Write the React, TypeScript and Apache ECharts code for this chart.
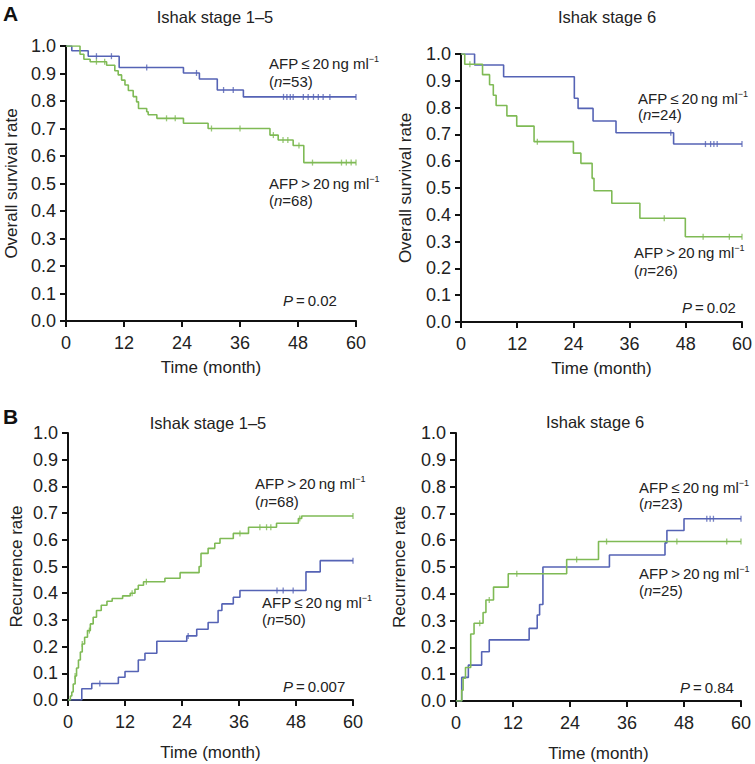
import React, { useEffect, useRef } from "react";
import * as echarts from "echarts";

const FONT = "'Liberation Sans', Arial, Helvetica, sans-serif";
const BLUE = "#5563b5";
const GREEN = "#7fba55";

const xTicks = [0, 12, 24, 36, 48, 60];
const yTicks = [0, 0.1, 0.2, 0.3, 0.4, 0.5, 0.6, 0.7, 0.8, 0.9, 1.0];

const panelTitles = ["Ishak stage 1–5", "Ishak stage 6", "Ishak stage 1–5", "Ishak stage 6"];
const yNames = ["Overall survival rate", "Overall survival rate", "Recurrence rate", "Recurrence rate"];
const xName = "Time (month)";
const pValues = ["0.02", "0.02", "0.007", "0.84"];

// Panel A, Ishak stage 1–5 : overall survival
const aLeftLowT = [0, 1.2, 4.6, 11, 24.3, 27.6, 31.3, 36.7];
const aLeftLowV = [1, 0.983, 0.963, 0.922, 0.902, 0.88, 0.84, 0.815];
const aLeftLowCens = [6.3, 9.4, 16.7, 27, 32.6, 34.6, 45.0, 45.7, 46.4, 47.0, 49.1, 50.1, 51.2, 52.2, 53.2, 54.6, 60];
const aLeftHighT = [0, 2.9, 3.7, 5.0, 8.4, 10.1, 10.8, 11.5, 12.2, 12.9, 13.9, 14.6, 15.0, 16.7, 17.0, 18.8, 24.3, 29.4, 42.2, 43.9, 47.0, 49.2];
const aLeftHighV = [1, 0.97, 0.952, 0.943, 0.93, 0.91, 0.895, 0.876, 0.858, 0.838, 0.816, 0.797, 0.773, 0.761, 0.75, 0.737, 0.719, 0.7, 0.676, 0.658, 0.638, 0.576];
const aLeftHighCens = [6.3, 8.0, 20.8, 22.6, 30.1, 36, 42.9, 44.9, 45.9, 48.2, 51.0, 57.0, 58.0, 59.0, 60];

// Panel A, Ishak stage 6 : overall survival
const aRightLowT = [0, 2.9, 9.1, 24.2, 25.0, 28.2, 33.1, 45.4];
const aRightLowV = [1, 0.959, 0.915, 0.835, 0.797, 0.75, 0.706, 0.664];
const aRightLowCens = [44.8, 52.2, 53.3, 54.0, 54.7, 60];
const aRightHighT = [0, 0.8, 4.6, 6.1, 6.9, 7.5, 9.8, 11.9, 15.6, 24.0, 25.6, 28.0, 28.4, 32.2, 38.2, 47.9];
const aRightHighV = [1, 0.962, 0.923, 0.885, 0.846, 0.808, 0.769, 0.731, 0.673, 0.63, 0.592, 0.536, 0.49, 0.443, 0.387, 0.318];
const aRightHighCens = [1.9, 16.3, 43.4, 51.7, 57.3, 60];

// Panel B, Ishak stage 1–5 : recurrence
const bLeftHighT = [0, 0.5, 0.8, 1.1, 1.5, 1.8, 2.2, 2.6, 3.0, 3.5, 4.1, 4.7, 5.3, 6.0, 7.0, 8.2, 9.3, 11.5, 13.1, 14.1, 14.8, 15.9, 20.4, 23.6, 27.6, 28.0, 29.5, 30.9, 32.0, 34.8, 38.0, 43.9, 48.5, 49.2];
const bLeftHighV = [0, 0.015, 0.03, 0.06, 0.09, 0.12, 0.15, 0.18, 0.21, 0.235, 0.26, 0.285, 0.31, 0.335, 0.355, 0.37, 0.38, 0.39, 0.4, 0.415, 0.43, 0.443, 0.456, 0.477, 0.5, 0.549, 0.568, 0.587, 0.605, 0.624, 0.647, 0.662, 0.68, 0.689];
const bLeftHighCens = [1.5, 3.0, 4.5, 13.5, 16.5, 36.2, 40.4, 41.8, 42.7, 48.8, 60];
const bLeftLowT = [0, 2.9, 5.0, 10.6, 12.0, 14.8, 16.2, 18.7, 25.0, 27.1, 29.5, 31.6, 32.4, 34.8, 36.2, 50.1, 53.1];
const bLeftLowV = [0, 0.042, 0.062, 0.085, 0.107, 0.15, 0.175, 0.22, 0.24, 0.265, 0.29, 0.335, 0.36, 0.385, 0.41, 0.48, 0.522];
const bLeftLowCens = [6.7, 25.3, 44.0, 45.3, 47.4, 60];

// Panel B, Ishak stage 6 : recurrence
const bRightLowT = [0, 1.2, 2.6, 5.4, 7.0, 15.4, 17.1, 17.6, 18.3, 32.3, 44.0, 44.4, 48.0];
const bRightLowV = [0, 0.088, 0.134, 0.184, 0.228, 0.271, 0.321, 0.36, 0.5, 0.545, 0.59, 0.636, 0.68];
const bRightLowCens = [52.8, 53.5, 54.2, 60];
const bRightHighT = [0, 1.2, 1.5, 2.0, 3.1, 3.8, 5.7, 6.3, 7.9, 11.0, 23.3, 30.0];
const bRightHighV = [0, 0.04, 0.085, 0.125, 0.25, 0.29, 0.33, 0.377, 0.425, 0.475, 0.528, 0.595];
const bRightHighCens = [5.0, 7.0, 12.8, 25.4, 31.7, 46.5, 57.0, 60];

type Curve = { t: number[]; v: number[]; cens: number[]; color: string };

const panels: { curves: Curve[] }[] = [
  { curves: [
    { t: aLeftLowT, v: aLeftLowV, cens: aLeftLowCens, color: BLUE },
    { t: aLeftHighT, v: aLeftHighV, cens: aLeftHighCens, color: GREEN },
  ] },
  { curves: [
    { t: aRightLowT, v: aRightLowV, cens: aRightLowCens, color: BLUE },
    { t: aRightHighT, v: aRightHighV, cens: aRightHighCens, color: GREEN },
  ] },
  { curves: [
    { t: bLeftLowT, v: bLeftLowV, cens: bLeftLowCens, color: BLUE },
    { t: bLeftHighT, v: bLeftHighV, cens: bLeftHighCens, color: GREEN },
  ] },
  { curves: [
    { t: bRightLowT, v: bRightLowV, cens: bRightLowCens, color: BLUE },
    { t: bRightHighT, v: bRightHighV, cens: bRightHighCens, color: GREEN },
  ] },
];

const grids = [
  { left: 66, top: 46, width: 290, height: 275 },
  { left: 461, top: 54, width: 285, height: 268 },
  { left: 68, top: 433, width: 285, height: 267 },
  { left: 456, top: 433, width: 285, height: 268 },
];
const yNameGaps = [46, 47, 43, 48];
const xNameGaps = [38, 38, 44, 44];

function stepAt(t: number[], v: number[], x: number) {
  let val = v[0];
  for (let i = 0; i < t.length; i++) if (t[i] <= x) val = v[i];
  return val;
}

const rich = {
  r: { fontSize: 15, fontFamily: FONT, fill: "#222", lineHeight: 17 },
  i: { fontSize: 15, fontFamily: FONT, fill: "#222", fontStyle: "italic", lineHeight: 17 },
  s: { fontSize: 9, fontFamily: FONT, fill: "#222", verticalAlign: "top", lineHeight: 17 },
};

function txt(x: number, y: number, text: string) {
  return {
    type: "text", x, y, silent: true,
    style: { text, rich, fill: "#222", fontSize: 15, fontFamily: FONT, align: "left", verticalAlign: "middle" },
  };
}
const T = "\u2009";
const afp = (op: string) => `{r|AFP${T}${op}${T}20${T}ng ml}{s|−1}`;
const nn = (n: number) => `{r|(}{i|n}{r|=${n})}`;
const pv = (p: string) => `{i|P}{r|${T}=${T}${p}}`;

function title(x: number, y: number, text: string) {
  return { type: "text", x, y, silent: true, style: { text, fontSize: 16.5, fontFamily: FONT, fill: "#222", align: "center", verticalAlign: "middle" } };
}

export default function App() {
  const ref = useRef<HTMLDivElement>(null);
  useEffect(() => {
    document.body.style.margin = "0";
    if (!ref.current) return;
    const chart = echarts.init(ref.current, undefined, { renderer: "svg" });
    const series: any[] = [];
    panels.forEach((p, pi) => {
      p.curves.forEach((c) => {
        const data = c.t.map((t, i) => [t, c.v[i]]);
        data.push([60, c.v[c.v.length - 1]]);
        series.push({
          type: "line", xAxisIndex: pi, yAxisIndex: pi, step: "end", data,
          showSymbol: false, symbol: "none", lineStyle: { color: c.color, width: 1.6 },
          itemStyle: { color: c.color }, z: 3, silent: true,
        });
        series.push({
          type: "scatter", xAxisIndex: pi, yAxisIndex: pi,
          data: c.cens.map((x) => [x, stepAt(c.t, c.v, x)]),
          symbol: "rect", symbolSize: [1.3, 6], itemStyle: { color: c.color }, z: 4, silent: true,
        });
      });
    });
    const axisLine = { show: true, onZero: false, lineStyle: { color: "#111", width: 2 } };
    const axisTick = { show: true, inside: false, length: 6, lineStyle: { color: "#111", width: 2 } };
    const option: any = {
      animation: false,
      backgroundColor: "#fff",
      grid: grids.map((g) => ({ ...g, containLabel: false })),
      xAxis: grids.map((_, i) => ({
        type: "value", gridIndex: i, min: 0, max: 60, interval: 12,
        axisLine, axisTick, splitLine: { show: false },
        axisLabel: { fontSize: 18, fontFamily: FONT, color: "#222", margin: 13,
          formatter: (v: number) => (xTicks.includes(v) ? String(v) : "") },
        name: xName, nameLocation: "middle", nameGap: xNameGaps[i],
        nameTextStyle: { fontSize: 17, fontFamily: FONT, color: "#222" },
      })),
      yAxis: grids.map((_, i) => ({
        type: "value", gridIndex: i, min: 0, max: 1, interval: 0.1,
        axisLine, axisTick, splitLine: { show: false },
        axisLabel: { fontSize: 18, fontFamily: FONT, color: "#222", margin: 10,
          formatter: (v: number) => yTicks.some((y) => Math.abs(y - v) < 1e-6) ? v.toFixed(1) : "" },
        name: yNames[i], nameLocation: "middle", nameGap: yNameGaps[i],
        nameTextStyle: { fontSize: 17, fontFamily: FONT, color: "#222" },
      })),
      series,
      graphic: [
        { type: "text", x: 3, y: 3, silent: true, style: { text: "A", fontSize: 21, fontWeight: "bold", fontFamily: FONT, fill: "#111" } },
        { type: "text", x: 3, y: 406, silent: true, style: { text: "B", fontSize: 21, fontWeight: "bold", fontFamily: FONT, fill: "#111" } },
        title(215, 17, panelTitles[0]),
        title(607, 17, panelTitles[1]),
        title(208, 423, panelTitles[2]),
        title(595, 422, panelTitles[3]),
        txt(269, 63, afp("≤")), txt(269, 81, nn(53)),
        txt(269, 183, afp(">")), txt(269, 200, nn(68)),
        txt(283, 300, pv(pValues[0])),
        txt(638, 98, afp("≤")), txt(638, 114, nn(24)),
        txt(634, 252, afp(">")), txt(634, 270, nn(26)),
        txt(682, 307, pv(pValues[1])),
        txt(255, 483, afp(">")), txt(255, 501, nn(68)),
        txt(262, 602, afp("≤")), txt(262, 619, nn(50)),
        txt(283, 686, pv(pValues[2])),
        txt(639, 487, afp("≤")), txt(639, 503, nn(23)),
        txt(639, 573, afp(">")), txt(639, 590, nn(25)),
        txt(680, 687, pv(pValues[3])),
      ],
    };
    chart.setOption(option);
    return () => chart.dispose();
  }, []);
  return <div ref={ref} style={{ width: 755, height: 764, background: "#fff" }} />;
}
